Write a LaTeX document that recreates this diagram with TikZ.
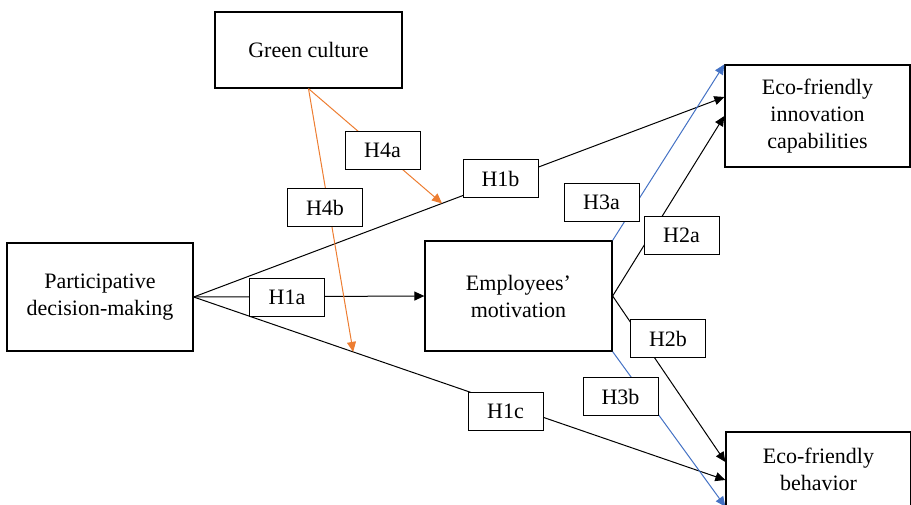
\documentclass[tikz,border=0pt]{standalone}
\usepackage{fontspec}
\setmainfont{Liberation Serif}
\usetikzlibrary{arrows.meta, calc}
\definecolor{hyporange}{RGB}{237,125,49}
\definecolor{hypblue}{RGB}{68,114,196}

\begin{document}
\begin{tikzpicture}[x=0.5pt, y=-0.5pt, >={Triangle[length=5pt,width=4.5pt]}, line width=0.5pt,
    font=\fontsize{11}{13.5}\selectfont,
    box/.style={rectangle, draw, line width=0.65pt, align=center, inner sep=0pt},
    hyp/.style={rectangle, draw, fill=white, minimum width=37.5pt, minimum height=19pt, inner sep=0pt}]
  \useasboundingbox (0,0) rectangle (911,504);

  \node[box, minimum width=93pt, minimum height=54pt] (pdm) at (100,297) {Participative\\decision-making};
  \node[box, minimum width=93.5pt, minimum height=38pt] (green) at (308.5,50) {Green culture};
  \node[box, minimum width=93.5pt, minimum height=55pt] (em) at (518.5,296) {Employees’\\motivation};
  \node[box, minimum width=92.5pt, minimum height=51pt] (inn) at (817.5,116) {Eco-friendly\\innovation\\capabilities};
  \node[box, minimum width=92.5pt, minimum height=37pt] (beh) at (818.5,469) {Eco-friendly\\behavior};

  \coordinate (innb) at ($(inn.west)+(0,-19)$);
  \coordinate (behc) at ($(beh.west)+(0,11)$);
  \coordinate (behb) at ($(beh.west)+(0,-7)$);
  \coordinate (moda) at ($(pdm.east)!0.468!(innb)$);
  \coordinate (modb) at ($(pdm.east)!0.30!(behc)$);

  \draw[->] (pdm.east) -- (em.west);
  \draw[->] (pdm.east) -- (innb);
  \draw[->] (pdm.east) -- (behc);
  \draw[->] (em.east) -- (inn.west);
  \draw[->] (em.east) -- (behb);
  \draw[->, hypblue] (em.north east) -- (inn.north west);
  \draw[->, hypblue] (em.south east) -- (beh.south west);
  \draw[->, hyporange] (green.south) -- (moda);
  \draw[->, hyporange] (green.south) -- (modb);

  \node[hyp] (h1a) at (287,297.5) {H1a};
  \node[hyp] (h1b) at (500.5,178.5) {H1b};
  \node[hyp] (h1c) at (505.5,411) {H1c};
  \node[hyp] (h2a) at (681.5,235.5) {H2a};
  \node[hyp] (h2b) at (668,338.5) {H2b};
  \node[hyp] (h3a) at (601.5,202.5) {H3a};
  \node[hyp] (h3b) at (620.5,396.5) {H3b};
  \node[hyp] (h4a) at (382.5,150) {H4a};
  \node[hyp] (h4b) at (325,207.5) {H4b};
\end{tikzpicture}
\end{document}
